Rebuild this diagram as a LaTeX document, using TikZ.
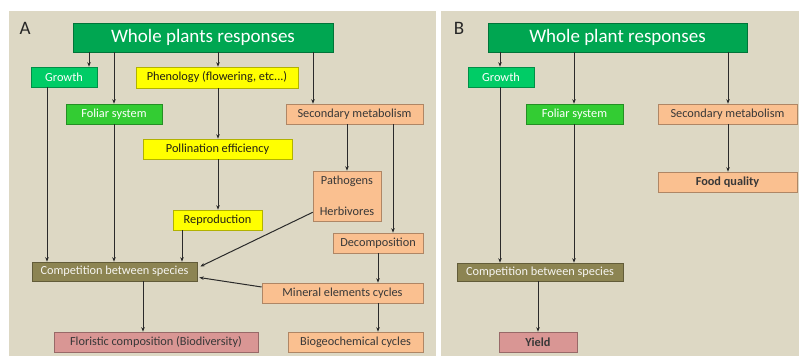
\documentclass[tikz,border=0pt]{standalone}
\usepackage{fontspec}
\setmainfont{Carlito}
\usetikzlibrary{arrows.meta,calc}
\definecolor{bgbeige}{HTML}{DDD8C4}
\definecolor{titlegreen}{HTML}{00A651}
\definecolor{growgreen}{HTML}{00CC66}
\definecolor{foliargreen}{HTML}{33CC33}
\definecolor{phenyellow}{HTML}{FFFF00}
\definecolor{peach}{HTML}{FAC090}
\definecolor{olive}{HTML}{8C8452}
\definecolor{rose}{HTML}{D99694}
\definecolor{linegrey}{HTML}{2A2A2A}
\tikzset{
  box/.style={draw=#1!70!black, fill=#1, line width=0.6pt, inner sep=0pt, font=\fontsize{12.3}{14}\selectfont},
  titlebox/.style={box=titlegreen, text=white, font=\fontsize{19}{22}\selectfont},
  growbox/.style={box=growgreen, text=white},
  foliarbox/.style={box=foliargreen, text=white},
  yelbox/.style={box=phenyellow, text={black!75!olive}},
  peachbox/.style={box=peach, text=black!78},
  compbox/.style={box=olive, text={white!92!olive}},
  rosebox/.style={box=rose, text=black!78},
  arr/.style={-{Stealth[length=4.5pt,width=3.5pt]}, draw=linegrey, line width=1pt},
  panel/.style={fill=bgbeige, draw=none},
  plabel/.style={font=\fontsize{19}{22}\selectfont, text=black!85, inner sep=0pt}
}
\begin{document}
\begin{tikzpicture}[x=1pt,y=-1pt]
\useasboundingbox (0,0) rectangle (800,356);
\fill[white] (0,0) rectangle (800,356);
\fill[panel] (9,11) rectangle (436,356);
\fill[panel] (441,11) rectangle (799,356);
\node[plabel] (labA) at (25,28) {A};
\node[plabel] (labB) at (459,28) {B};

% ---------- Panel A ----------
\node[titlebox, minimum width=260pt, minimum height=29pt] (titleA) at (203,37.5) {Whole plants responses};
\node[growbox, minimum width=66pt, minimum height=20pt] (growthA) at (64,77) {Growth};
\node[yelbox, minimum width=162pt, minimum height=21pt] (phen) at (217,77.5) {Phenology (flowering, etc...)};
\node[foliarbox, minimum width=96pt, minimum height=20pt] (foliarA) at (114,114) {Foliar system};
\node[peachbox, minimum width=137pt, minimum height=20pt] (secA) at (354.5,114) {Secondary metabolism};
\node[yelbox, minimum width=149pt, minimum height=20pt] (poll) at (217.5,149) {Pollination efficiency};
\node[peachbox, minimum width=68pt, minimum height=50pt, align=center] (path) at (347,196) {Pathogens\\[16.5pt]Herbivores};
\node[yelbox, minimum width=89pt, minimum height=20pt] (repr) at (217.5,220) {Reproduction};
\node[peachbox, minimum width=90pt, minimum height=20pt] (decomp) at (378,243) {Decomposition};
\node[compbox, minimum width=165pt, minimum height=19pt] (compA) at (114.5,271.5) {Competition between species};
\node[peachbox, minimum width=161pt, minimum height=20pt] (mineral) at (342.5,293) {Mineral elements cycles};
\node[rosebox, minimum width=204pt, minimum height=20pt] (flor) at (156,342) {Floristic composition (Biodiversity)};
\node[peachbox, minimum width=135pt, minimum height=20pt] (bio) at (355.5,342) {Biogeochemical cycles};

\coordinate (xa1) at (89,0);
\coordinate (xa2) at (313,0);
\coordinate (xa3) at (47,0);
\coordinate (xa4) at (182,0);
\coordinate (xa5) at (393,0);
\coordinate (xa6) at (143,0);
\coordinate (xa7) at (218,0);

\draw[arr] (titleA.south -| xa1) -- (growthA.north -| xa1);
\draw[arr] (titleA.south -| foliarA) -- (foliarA.north);
\draw[arr] (titleA.south -| xa7) -- (phen.north -| xa7);
\draw[arr] (titleA.south -| xa2) -- (secA.north -| xa2);
\draw[arr] (growthA.south -| xa3) -- (compA.north -| xa3);
\draw[arr] (foliarA.south) -- (compA.north -| foliarA);
\draw[arr] (phen.south -| xa7) -- (poll.north -| xa7);
\draw[arr] (poll.south -| xa7) -- (repr.north -| xa7);
\draw[arr] (repr.south -| xa4) -- (compA.north -| xa4);
\draw[arr] (secA.south -| path) -- (path.north);
\draw[arr] (secA.south -| xa5) -- (decomp.north -| xa5);
\draw[arr] ([yshift=9pt]path.south west) -- ([shift={(3pt,5pt)}]compA.east);
\draw[arr] ([yshift=6pt]mineral.west) -- ([shift={(2pt,-6pt)}]compA.east);
\draw[arr] (decomp.south) -- (mineral.north -| decomp);
\draw[arr] (compA.south -| xa6) -- (flor.north -| xa6);
\draw[arr] (mineral.south -| decomp) -- (bio.north -| decomp);

% ---------- Panel B ----------
\node[titlebox, minimum width=259pt, minimum height=29pt] (titleB) at (617.5,37.5) {Whole plant responses};
\node[growbox, minimum width=66pt, minimum height=20pt] (growthB) at (501,77) {Growth};
\node[foliarbox, minimum width=97pt, minimum height=20pt] (foliarB) at (574.5,114) {Foliar system};
\node[peachbox, minimum width=139pt, minimum height=20pt] (secB) at (727.5,114) {Secondary metabolism};
\node[peachbox, minimum width=139pt, minimum height=20pt, font=\fontsize{12.3}{14}\selectfont\bfseries] (food) at (727.5,182) {Food quality};
\node[compbox, minimum width=166pt, minimum height=18pt] (compB) at (540,272) {Competition between species};
\node[rosebox, minimum width=78pt, minimum height=20pt, font=\fontsize{12.3}{14}\selectfont\bfseries] (yield) at (538,342) {Yield};

\coordinate (xb1) at (500,0);
\coordinate (xb2) at (574,0);
\coordinate (xb3) at (728,0);
\coordinate (xb4) at (538,0);

\draw[arr] (titleB.south -| xb1) -- (growthB.north -| xb1);
\draw[arr] (titleB.south -| xb2) -- (foliarB.north -| xb2);
\draw[arr] (titleB.south -| xb3) -- (secB.north -| xb3);
\draw[arr] (growthB.south -| xb1) -- (compB.north -| xb1);
\draw[arr] (foliarB.south -| xb2) -- (compB.north -| xb2);
\draw[arr] (secB.south -| xb3) -- (food.north -| xb3);
\draw[arr] (compB.south -| xb4) -- (yield.north -| xb4);
\end{tikzpicture}
\end{document}
